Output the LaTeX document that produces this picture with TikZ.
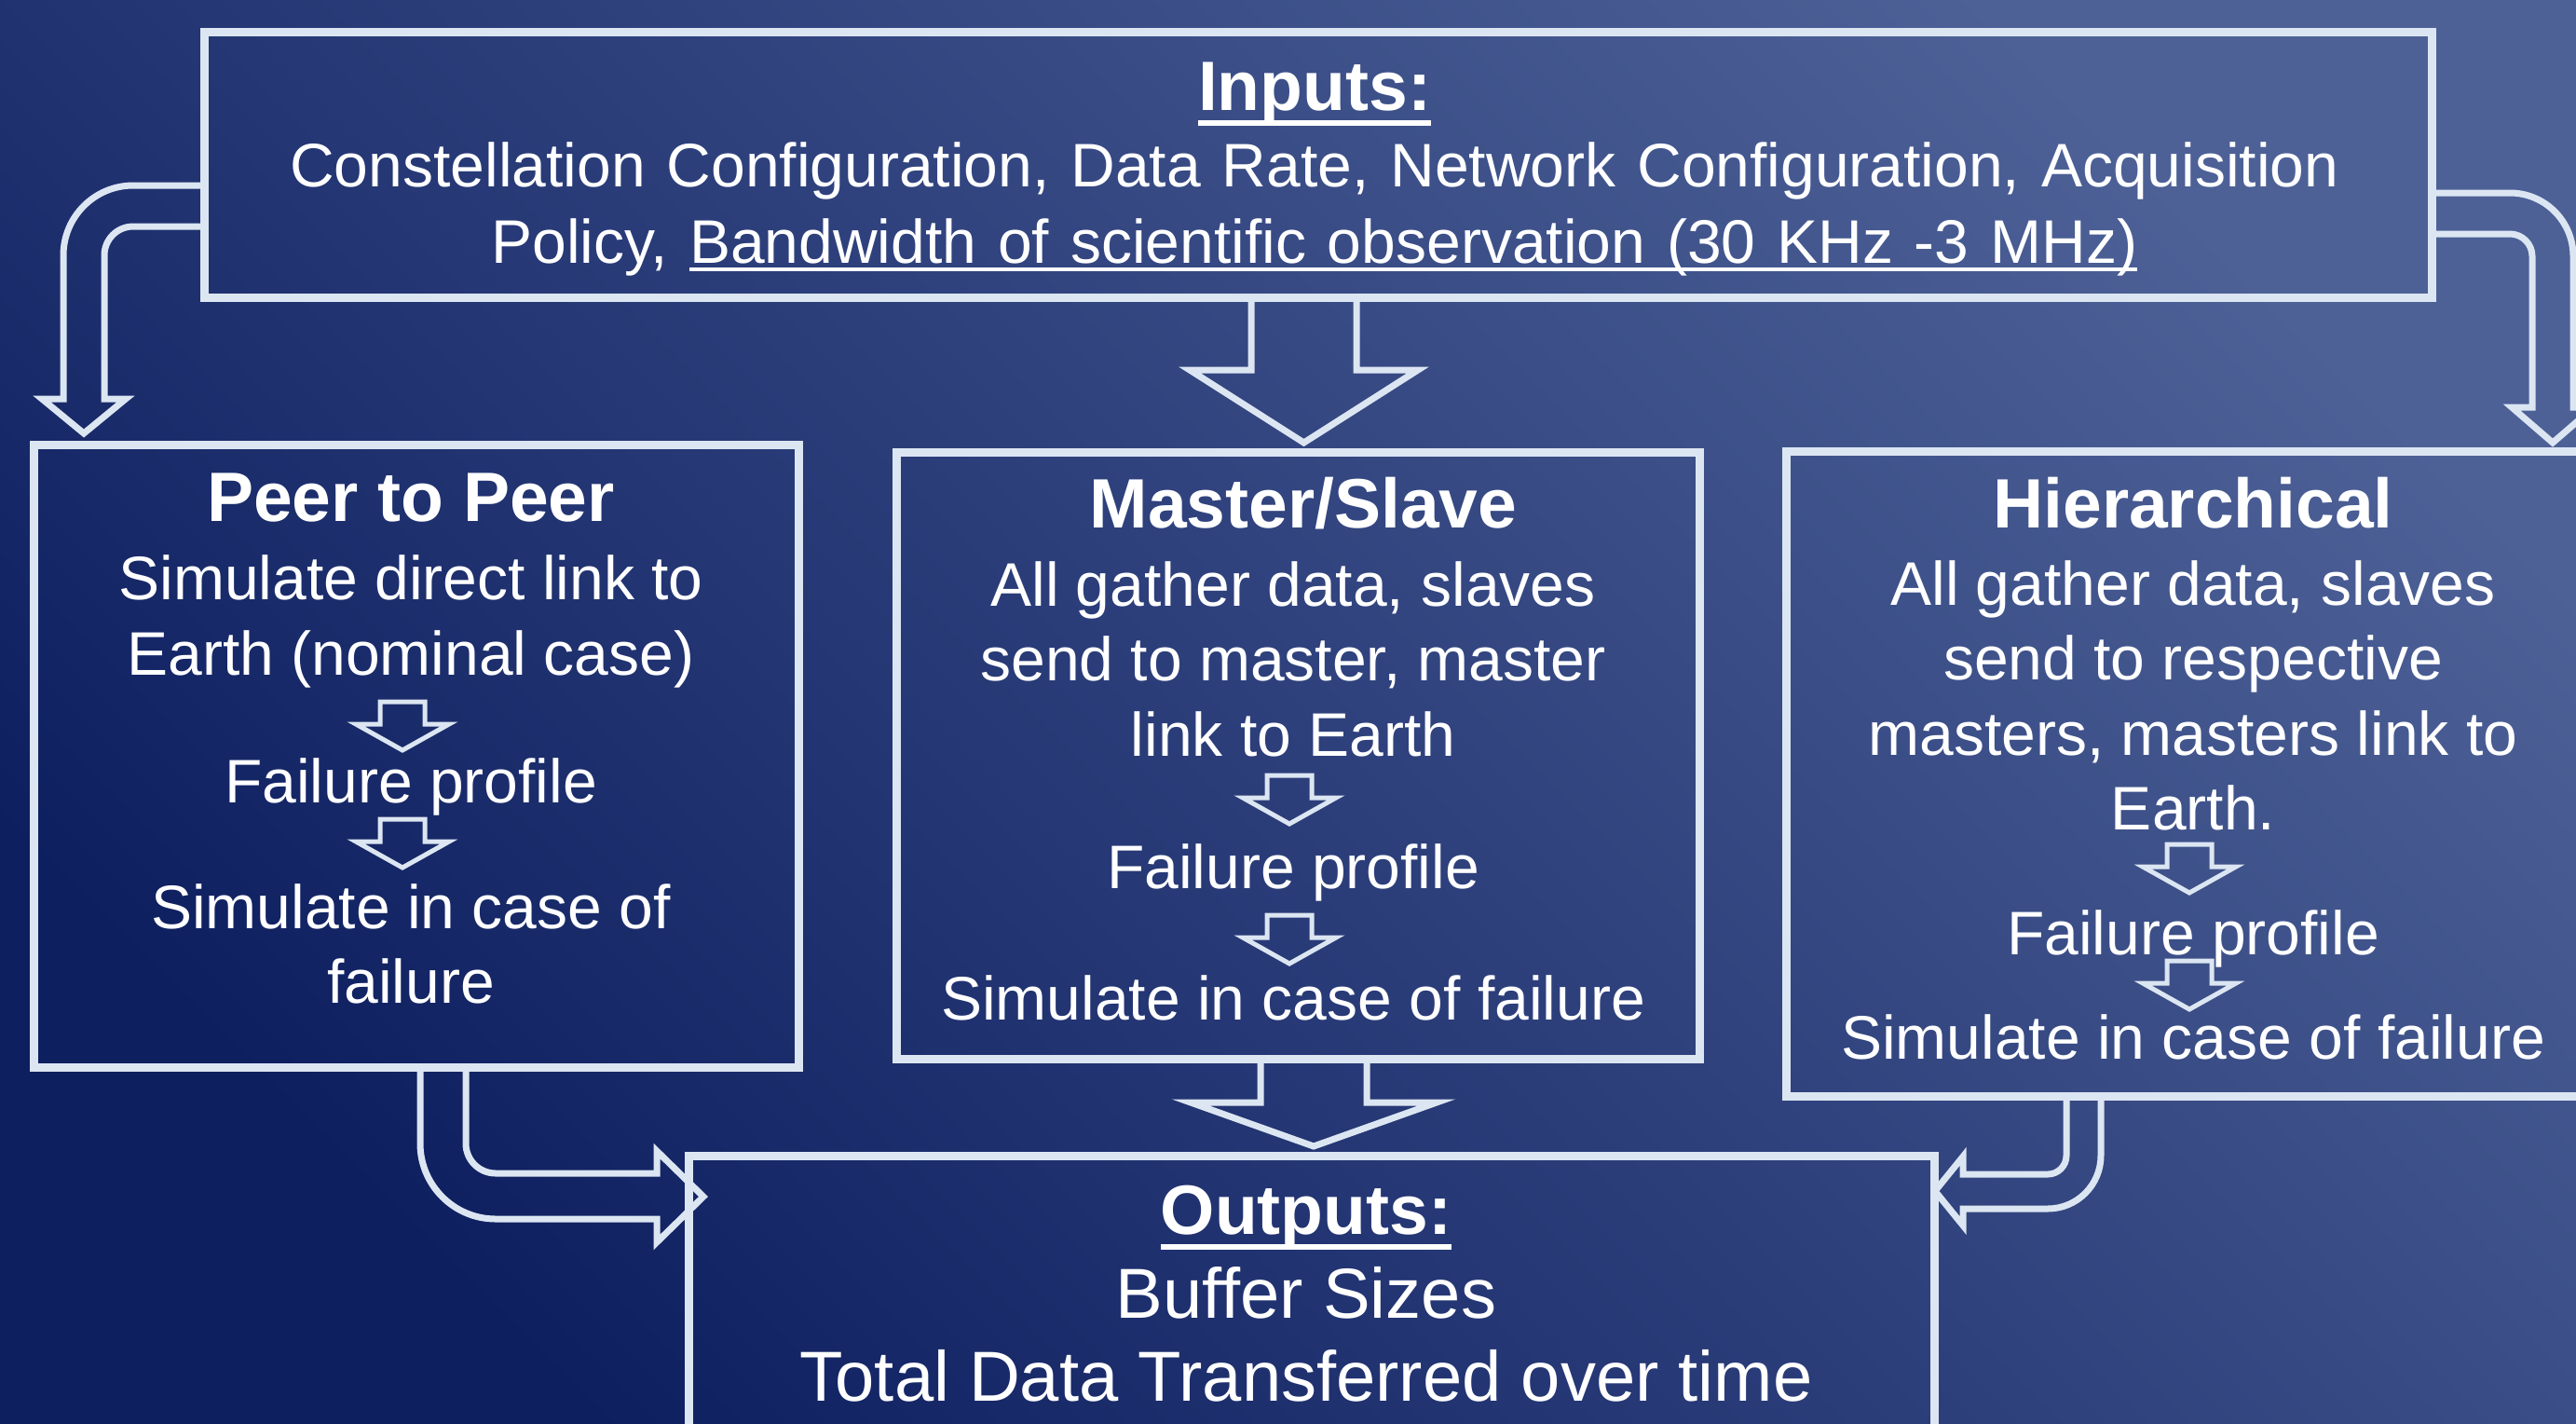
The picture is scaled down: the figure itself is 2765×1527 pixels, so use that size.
\documentclass[tikz,border=0pt]{standalone}
\usepackage{fontspec}
\setmainfont{Liberation Sans}
\newfontfamily\topfont[WordSpace=1.25]{Liberation Sans}
\definecolor{bgdark}{HTML}{0E1F60}
\definecolor{bglight}{HTML}{4D6197}
\definecolor{edgecol}{HTML}{DCE6F2}
\newsavebox\ulbox
% #1 = distance from baseline to the bottom of the rule, #2 = thickness, #3 = text
\newcommand\ulx[3]{\sbox\ulbox{#3}\rlap{\rule[-#1]{\wd\ulbox}{#2}}\usebox\ulbox}
\tikzset{
  boxframe/.style={draw=edgecol, line width=9pt, rectangle, inner sep=0pt, anchor=north west},
  barrow/.style={draw=edgecol, line width=7pt, line join=miter},
  sarrow/.style={draw=edgecol, line width=5pt, line join=miter},
  txt/.style={text=white, anchor=base, inner sep=0pt},
  bodytxt/.style={txt, font=\fontsize{66}{79}\selectfont},
  toptxt/.style={txt, font=\topfont\fontsize{66}{80}\selectfont},
  headtxt/.style={txt, font=\fontsize{75}{90}\selectfont\bfseries},
  outtxt/.style={txt, font=\fontsize{76}{90}\selectfont},
  pics/smallarrow/.style={code={
    \draw[sarrow] (-24,0) -- (-24,24) -- (-50,24) -- (0,52) -- (50,24) -- (24,24) -- (24,0) -- cycle;
  }}
}
\begin{document}
\begin{tikzpicture}[x=1pt,y=-1pt]
\useasboundingbox (0,0) rectangle (2765,1527);
\clip (0,0) rectangle (2765,1527);
\shade[top color=bglight, bottom color=bgdark, shading angle=-45] (0,0) rectangle (2765,1527);

% boxes
\node[boxframe, minimum width=2391pt, minimum height=285pt] (inbox) at (215,30) {};
\node[boxframe, minimum width=821pt, minimum height=668pt] (peer) at (32,473) {};
\node[boxframe, minimum width=862pt, minimum height=651pt] (master) at (958,481) {};
\node[boxframe, minimum width=900pt, minimum height=692pt] (hier) at (1913,480) {};
\node[boxframe, minimum width=1337pt, minimum height=400pt] (outbox) at (735,1236) {};

% inputs text
\node[headtxt] (intitle) at (1411,118) {\ulx{17pt}{6pt}{Inputs:}};
\node[toptxt] (in1) at (1411,200) {Constellation Configuration, Data Rate, Network Configuration, Acquisition};
\node[toptxt] (in2) at (1411,282) {Policy, \ulx{9pt}{4pt}{Bandwidth of scientific observation (30 KHz -3 MHz)}};

% peer to peer
\node[headtxt] (p0) at (441,559) {Peer to Peer};
\node[bodytxt] (p1) at (441,643) {Simulate direct link to};
\node[bodytxt] (p2) at (441,724) {Earth (nominal case)};
\node[bodytxt] (p3) at (441,861) {Failure profile};
\node[bodytxt] (p4) at (441,996) {Simulate in case of};
\node[bodytxt] (p5) at (441,1076) {failure};
\pic at (432,753) {smallarrow};
\pic at (432,879) {smallarrow};

% master/slave
\node[headtxt] (m0) at (1399,566) {Master/Slave};
\node[bodytxt] (m1) at (1388,650) {All gather data, slaves};
\node[bodytxt] (m2) at (1388,730) {send to master, master};
\node[bodytxt] (m3) at (1388,811) {link to Earth};
\node[bodytxt] (m4) at (1388,953) {Failure profile};
\node[bodytxt] (m5) at (1388,1094) {Simulate in case of failure};
\pic at (1384,832) {smallarrow};
\pic at (1384,982) {smallarrow};

% hierarchical
\node[headtxt] (h0) at (2354,566) {Hierarchical};
\node[bodytxt] (h1) at (2354,649) {All gather data, slaves};
\node[bodytxt] (h2) at (2354,729) {send to respective};
\node[bodytxt] (h3) at (2354,810) {masters, masters link to};
\node[bodytxt] (h4) at (2354,890) {Earth.};
\node[bodytxt] (h5) at (2354,1024) {Failure profile};
\node[bodytxt] (h6) at (2354,1136) {Simulate in case of failure};
\pic at (2350,906) {smallarrow};
\pic at (2350,1031) {smallarrow};

% outputs
\node[headtxt] (o0) at (1402,1324) {\ulx{17pt}{6pt}{Outputs:}};
\node[outtxt] (o1) at (1402,1414) {Buffer Sizes};
\node[outtxt] (o2) at (1402,1503) {Total Data Transferred over time};

% big arrows
% inputs -> peer
\draw[barrow] (215,199) -- (143,199) arc[start angle=-90, end angle=-180, radius=75]
  -- (68,428) -- (45,428) -- (90,465) -- (135,428) -- (112,428) -- (112,274)
  arc[start angle=-180, end angle=-90, radius=31] -- (215,243);
% inputs -> hierarchical
\draw[barrow] (2606,207) -- (2694,207) arc[start angle=-90, end angle=0, radius=68]
  -- (2762,437) -- (2784,437) -- (2740,475) -- (2696,437) -- (2718,437) -- (2718,275)
  arc[start angle=0, end angle=-90, radius=24] -- (2606,251);
% inputs -> master
\draw[barrow] (1343,315) -- (1343,397) -- (1277,397) -- (1399.5,475) -- (1522,397) -- (1456,397) -- (1456,315);
% master -> outputs
\draw[barrow] (1353,1132) -- (1353,1183) -- (1278,1183) -- (1410,1230) -- (1542,1183) -- (1467,1183) -- (1467,1132);
% peer -> outputs
\draw[barrow] (451,1141) -- (451,1227) arc[start angle=180, end angle=90, radius=81]
  -- (705,1308) -- (705,1333) -- (755,1284) -- (705,1235) -- (705,1259) -- (532,1259)
  arc[start angle=90, end angle=180, radius=32] -- (500,1141);
% hierarchical -> outputs
\draw[barrow] (2255,1173) -- (2255,1240) arc[start angle=0, end angle=90, radius=57]
  -- (2107,1297) -- (2107,1315) -- (2077,1278) -- (2107,1241) -- (2107,1260) -- (2198,1260)
  arc[start angle=90, end angle=0, radius=20] -- (2218,1173);
\end{tikzpicture}
\end{document}
